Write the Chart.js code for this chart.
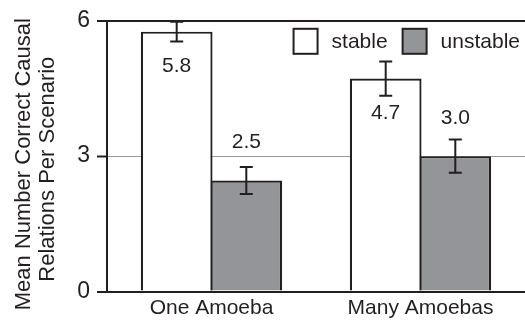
<!DOCTYPE html>
<html>
<head>
<meta charset="utf-8">
<script src="https://cdn.jsdelivr.net/npm/chart.js@4"></script>
<style>
html, body { margin: 0; padding: 0; background: #fff; }
</style>
</head>
<body>
<canvas id="grafico" width="525" height="324"></canvas>
<script>
// datos
const categorias = ['One Amoeba', 'Many Amoebas'];
const series = ['stable', 'unstable'];
const stableMedias = [5.76, 4.72];
const unstableMedias = [2.46, 3.0];
const stableErr = [0.22, 0.38];
const unstableErr = [0.30, 0.37];
const yTicks = [0, 3, 6];
const yTitulo = ['Mean Number Correct Causal', 'Relations Per Scenario'];

const TINTA = '#231f20';
const GRIS = '#939598';
const FUENTE = "'Liberation Sans', Arial, sans-serif";

// barras de error + etiquetas de valor
const erroresPlugin = {
    id: 'errores',
    afterDatasetsDraw(chart) {
        const ctx = chart.ctx;
        const y = chart.scales.y;
        chart.data.datasets.forEach((ds, i) => {
            chart.getDatasetMeta(i).data.forEach((bar, j) => {
                const v = ds.data[j], e = ds.err[j];
                const top = y.getPixelForValue(v + e), bot = y.getPixelForValue(v - e);
                ctx.save();
                ctx.strokeStyle = TINTA;
                ctx.lineWidth = 2;
                ctx.beginPath();
                ctx.moveTo(bar.x, top); ctx.lineTo(bar.x, bot);
                ctx.moveTo(bar.x - 6.5, top); ctx.lineTo(bar.x + 6.5, top);
                ctx.moveTo(bar.x - 6.5, bot); ctx.lineTo(bar.x + 6.5, bot);
                ctx.stroke();
                ctx.fillStyle = TINTA;
                ctx.font = '21px ' + FUENTE;
                ctx.textAlign = 'center';
                ctx.textBaseline = 'middle';
                const ly = i === 0 ? bar.y + 35 : bar.y - 38;
                ctx.fillText(v.toFixed(1), bar.x, ly);
                ctx.restore();
            });
        });
    }
};

// leyenda dentro del area, arriba a la derecha
const leyendaPlugin = {
    id: 'leyenda',
    afterDraw(chart) {
        const ctx = chart.ctx;
        const area = chart.chartArea;
        ctx.save();
        ctx.font = '21px ' + FUENTE;
        const w0 = ctx.measureText(series[0]).width;
        const w1 = ctx.measureText(series[1]).width;
        const total = 38 + w0 + 15 + 38 + w1;
        let x = 520 - total;
        const top = area.top + 8;
        const colores = ['#ffffff', GRIS];
        [w0, w1].forEach((w, i) => {
            ctx.fillStyle = colores[i];
            ctx.fillRect(x, top, 24, 25);
            ctx.strokeStyle = TINTA;
            ctx.lineWidth = 2;
            ctx.strokeRect(x, top, 24, 25);
            ctx.fillStyle = TINTA;
            ctx.textAlign = 'left';
            ctx.textBaseline = 'middle';
            ctx.fillText(series[i], x + 38, top + 13.5);
            x += 38 + w + 15;
        });
        ctx.restore();
    }
};

// titulo del eje y en dos lineas
const tituloYPlugin = {
    id: 'tituloY',
    afterDraw(chart) {
        const ctx = chart.ctx;
        const area = chart.chartArea;
        const cy = (area.top + area.bottom) / 2 + 13;
        ctx.save();
        ctx.translate(0, cy);
        ctx.rotate(-Math.PI / 2);
        ctx.fillStyle = TINTA;
        ctx.font = '22px ' + FUENTE;
        ctx.textAlign = 'center';
        ctx.textBaseline = 'alphabetic';
        ctx.fillText(yTitulo[0], 5, 29.5);
        ctx.fillText(yTitulo[1], 0, 53.5);
        ctx.restore();
    }
};

const borde = { top: 2.2, left: 2.2, right: 2.2, bottom: 0 };

new Chart(document.getElementById('grafico'), {
    type: 'bar',
    data: {
        labels: categorias,
        datasets: [
            { label: series[0], data: stableMedias, err: stableErr, backgroundColor: '#ffffff', borderColor: TINTA,
              borderWidth: borde, categoryPercentage: 0.666, barPercentage: 1.03, inflateAmount: 0 },
            { label: series[1], data: unstableMedias, err: unstableErr, backgroundColor: GRIS, borderColor: TINTA,
              borderWidth: borde, categoryPercentage: 0.666, barPercentage: 1.03, inflateAmount: 0 }
        ]
    },
    options: {
        responsive: false,
        animation: false,
        devicePixelRatio: 1,
        layout: { padding: { top: 20, right: -6, left: 0, bottom: 0 } },
        plugins: { legend: { display: false }, tooltip: { enabled: false } },
        scales: {
            x: {
                grid: { display: false, drawTicks: false },
                border: { display: true, color: TINTA, width: 2, z: 1 },
                ticks: { color: TINTA, font: { family: FUENTE, size: 21 }, padding: 4 },
                afterFit(s) { s.height = 32.5; }
            },
            y: {
                min: 0, max: 6,
                afterBuildTicks(s) { s.ticks = yTicks.map(v => ({ value: v })); },
                grid: {
                    color: c => c.tick && c.tick.value === 3 ? '#9a9a9a' : TINTA,
                    lineWidth: c => c.tick && c.tick.value === 3 ? 1 : 2,
                    tickColor: TINTA, tickWidth: 2, tickLength: 10, drawTicks: true
                },
                border: { display: true, color: TINTA, width: 2 },
                ticks: { color: TINTA, font: { family: FUENTE, size: 23 }, padding: 7 },
                afterFit(s) { s.width = 107; }
            }
        }
    },
    plugins: [erroresPlugin, leyendaPlugin, tituloYPlugin]
});
</script>
</body>
</html>
